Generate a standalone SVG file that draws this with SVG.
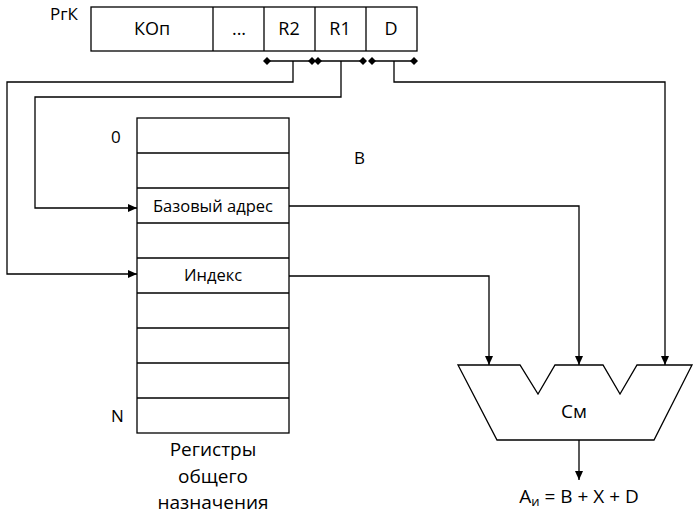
<svg xmlns="http://www.w3.org/2000/svg" width="699" height="518" viewBox="0 0 699 518">
<defs>
<marker id="arr" markerWidth="10" markerHeight="10" refX="9" refY="5" orient="auto" markerUnits="userSpaceOnUse">
<path d="M0,1 L9,5 L0,9 Z" fill="#000"/>
</marker>
<marker id="dia" markerWidth="10" markerHeight="10" refX="5" refY="5" orient="auto" markerUnits="userSpaceOnUse">
<path d="M5,1 L9,5 L5,9 L1,5 Z" fill="#000"/>
</marker>
</defs>
<style>
text{font-family:"Open Sans","Noto Sans","DejaVu Sans",sans-serif;font-size:17px;fill:#000}
.c{text-anchor:middle}
.f{font-size:18px}
.r{font-size:16.5px}
.big{font-size:19px}
.box{fill:#fff;stroke:#000;stroke-width:1.3}
.ln{fill:none;stroke:#000;stroke-width:1.3}
</style>
<rect width="699" height="518" fill="#fff"/>

<g id="rgk">
<text x="50" y="20">РгК</text>
<rect class="box" x="91" y="7" width="326" height="44"/>
<line class="ln" x1="213" y1="7" x2="213" y2="51"/>
<line class="ln" x1="264" y1="7" x2="264" y2="51"/>
<line class="ln" x1="315" y1="7" x2="315" y2="51"/>
<line class="ln" x1="366" y1="7" x2="366" y2="51"/>
<text class="c f" x="152" y="35">КОп</text>
<text class="c f" x="239" y="35">...</text>
<text class="c f" x="289" y="35">R2</text>
<text class="c f" x="340" y="35">R1</text>
<text class="c f" x="391" y="35">D</text>
</g>

<g id="fields">
<line class="ln" x1="267" y1="61" x2="312" y2="61" marker-start="url(#dia)" marker-end="url(#dia)"/>
<line class="ln" x1="318" y1="61" x2="363" y2="61" marker-start="url(#dia)" marker-end="url(#dia)"/>
<line class="ln" x1="372" y1="61" x2="414" y2="61" marker-start="url(#dia)" marker-end="url(#dia)"/>
</g>

<g id="regfile">
<rect class="box" x="137" y="118" width="152" height="315"/>
<line class="ln" x1="137" y1="153" x2="289" y2="153"/>
<line class="ln" x1="137" y1="188" x2="289" y2="188"/>
<line class="ln" x1="137" y1="223" x2="289" y2="223"/>
<line class="ln" x1="137" y1="258" x2="289" y2="258"/>
<line class="ln" x1="137" y1="293" x2="289" y2="293"/>
<line class="ln" x1="137" y1="328" x2="289" y2="328"/>
<line class="ln" x1="137" y1="363" x2="289" y2="363"/>
<line class="ln" x1="137" y1="398" x2="289" y2="398"/>
<text class="c r" x="213" y="212">Базовый адрес</text>
<text class="c r" x="213" y="281">Индекс</text>
<text x="111" y="143">0</text>
<text x="111" y="422">N</text>
<text class="c big" x="213" y="456">Регистры</text>
<text class="c big" x="213" y="483">общего</text>
<text class="c big" x="213" y="509">назначения</text>
</g>

<g id="labelB"><text x="354" y="164">B</text></g>

<g id="adder">
<path class="box" d="M458,365 L520,365 L538,394 L555,365 L603,365 L620,394 L637,365 L692,365 L654,440 L497,440 Z"/>
<text class="c big" x="574" y="418">См</text>
</g>

<g id="result">
<text class="c big" x="579" y="503">A<tspan font-size="13" dy="3">и</tspan><tspan dy="-3"> = B + X + D</tspan></text>
</g>

<g id="connectors">
<polyline class="ln" points="293,61 293,82 7,82 7,274 137,274" marker-end="url(#arr)"/>
<polyline class="ln" points="341,61 341,97 35,97 35,208 137,208" marker-end="url(#arr)"/>
<polyline class="ln" points="394,61 394,82 665,82 665,365" marker-end="url(#arr)"/>
<polyline class="ln" points="289,206 579,206 579,365" marker-end="url(#arr)"/>
<polyline class="ln" points="289,276 489,276 489,365" marker-end="url(#arr)"/>
<polyline class="ln" points="579,440 579,480" marker-end="url(#arr)"/>
</g>
</svg>
